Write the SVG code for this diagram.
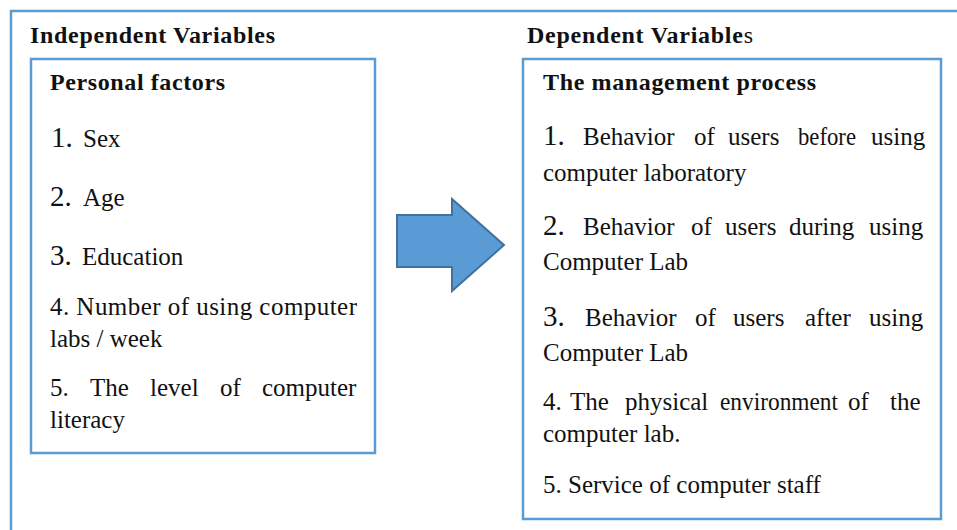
<svg xmlns="http://www.w3.org/2000/svg" width="957" height="530" viewBox="0 0 957 530">
<style>
.frame{fill:none;stroke:#5b9bd5;stroke-width:2.5}
.box{fill:#fff;stroke:#5b9bd5;stroke-width:2.5}
.h{font-size:24px;font-weight:bold}
.t{font-size:25px}
.n{font-size:29px}
</style>
<rect width="957" height="530" fill="#fff"/>
<rect class="frame" x="11" y="11" width="960" height="540"/>
<g font-family="Liberation Serif, serif" fill="#111">
<text class="h" x="30" y="43" textLength="245">Independent Variables</text>
<text class="h" x="527" y="43" textLength="226">Dependent Variable<tspan font-weight="normal">s</tspan></text>

<g id="independent">
<rect class="box" x="31" y="59" width="344" height="394"/>
<text class="h" x="50" y="90" textLength="175">Personal factors</text>
<text class="t" x="51" y="147"><tspan class="n">1.</tspan><tspan x="83">Sex</tspan></text>
<text class="t" x="50" y="206"><tspan class="n">2.</tspan><tspan x="83">Age</tspan></text>
<text class="t" x="50" y="265"><tspan class="n">3.</tspan><tspan x="82">Education</tspan></text>
<text class="t" x="50" y="315" textLength="307">4. Number of using computer</text>
<text class="t" x="50" y="347">labs / week</text>
<text class="t" y="396"><tspan x="50">5.</tspan><tspan x="90">The</tspan><tspan x="150">level</tspan><tspan x="220">of</tspan><tspan x="262">computer</tspan></text>
<text class="t" x="50" y="428">literacy</text>
</g>

<g id="connectors">
<polygon points="397,215 452,215 452,199 504,245 452,291 452,267 397,267" fill="#5b9bd5" stroke="#41719c" stroke-width="2"/>
</g>

<g id="dependent">
<rect class="box" x="523" y="59" width="418" height="460"/>
<text class="h" x="543" y="90" textLength="273">The management process</text>
<text class="t" y="145"><tspan class="n" x="543">1.</tspan><tspan x="583">Behavior</tspan><tspan x="694">of</tspan><tspan x="728">users</tspan></text>
<text class="t" x="798" y="145" textLength="58" lengthAdjust="spacingAndGlyphs">before</text>
<text class="t" x="871" y="145">using</text>
<text class="t" x="543" y="181">computer laboratory</text>
<text class="t" y="235"><tspan class="n" x="543">2.</tspan><tspan x="583">Behavior</tspan><tspan x="691">of</tspan><tspan x="725">users</tspan><tspan x="789">during</tspan><tspan x="869">using</tspan></text>
<text class="t" x="543" y="270">Computer Lab</text>
<text class="t" y="326"><tspan class="n" x="543">3.</tspan><tspan x="585">Behavior</tspan><tspan x="695">of</tspan><tspan x="733">users</tspan><tspan x="805">after</tspan><tspan x="869">using</tspan></text>
<text class="t" x="543" y="361">Computer Lab</text>
<text class="t" y="410"><tspan x="543">4.</tspan><tspan x="570">The</tspan><tspan x="625">physical</tspan></text>
<text class="t" x="720" y="410" textLength="118" lengthAdjust="spacingAndGlyphs">environment</text>
<text class="t" y="410"><tspan x="848">of</tspan><tspan x="890">the</tspan></text>
<text class="t" x="543" y="442">computer lab.</text>
<text class="t" x="543" y="493">5. Service of computer staff</text>
</g>
</g>
</svg>
